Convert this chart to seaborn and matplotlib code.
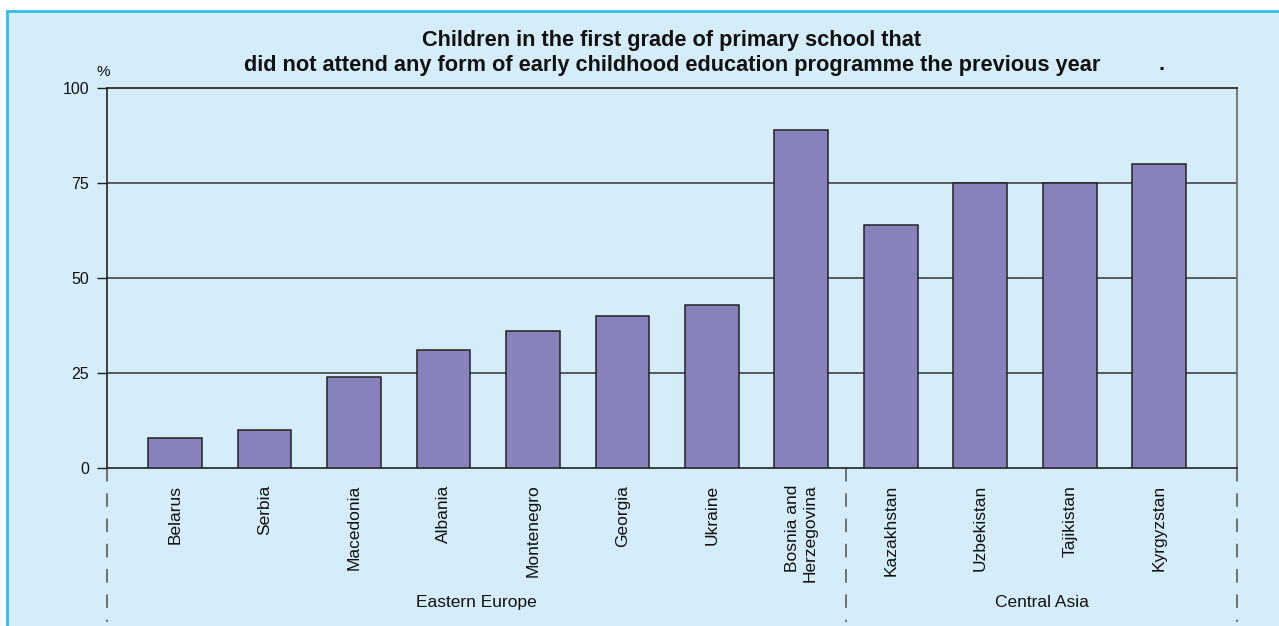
import matplotlib
matplotlib.use("Agg")
import matplotlib.pyplot as plt
from matplotlib.patches import Rectangle
from matplotlib.transforms import blended_transform_factory
import seaborn as sns
import pandas as pd

countries = ["Belarus", "Serbia", "Macedonia", "Albania", "Montenegro", "Georgia",
             "Ukraine", "Bosnia and\nHerzegovina", "Kazakhstan", "Uzbekistan",
             "Tajikistan", "Kyrgyzstan"]
pct_no_ece = [8, 10, 24, 31, 36, 40, 43, 89, 64, 75, 75, 80]
regions = ["Eastern Europe", "Central Asia"]
region_sizes = [8, 4]
y_ticks = [0, 25, 50, 75, 100]

BG = "#D5ECF9"
BAR = "#8782BC"

sns.set_theme(style="white")
plt.rcParams["font.family"] = ["Liberation Sans", "DejaVu Sans"]

fig = plt.figure(figsize=(12.79, 6.26), dpi=100)
fig.patch.set_facecolor("white")
fig.patches.append(Rectangle((7 / 1279, -0.01), 1.0, 1 - 11 / 626 + 0.01,
                             transform=fig.transFigure, facecolor=BG,
                             edgecolor="#33BDEE", linewidth=2, zorder=-10))

ax = fig.add_axes([107 / 1279, 1 - 468 / 626, 1130 / 1279, 380 / 626])
ax.set_facecolor(BG)

df = pd.DataFrame({"country": countries, "pct": pct_no_ece})
sns.barplot(data=df, x="country", y="pct", color=BAR, saturation=1,
            edgecolor="#222222", linewidth=1.1, width=0.6, ax=ax, zorder=3)

ax.set_xlim(-0.76, 11.87)
ax.set_ylim(0, 100)
ax.set_yticks(y_ticks)
ax.set_yticklabels([str(t) for t in y_ticks], fontsize=11.5, color="#111111")
ax.tick_params(axis="y", length=7, width=1, color="#222222", pad=6, left=True)
ax.tick_params(axis="x", length=0, pad=12)
ax.set_xticks(range(len(countries)))
ax.set_xticklabels(countries, rotation=90, ha="center", va="top",
                   multialignment="right", fontsize=12.5, color="#111111")
ax.set_xlabel("")
ax.set_ylabel("")

for t in y_ticks[1:-1]:
    ax.axhline(t, color="#333333", linewidth=1.1, zorder=1)

for side in ["left", "bottom", "top"]:
    ax.spines[side].set_color("#222222")
    ax.spines[side].set_linewidth(1.2)
ax.spines["right"].set_color("#777777")
ax.spines["right"].set_linewidth(1.4)

# Region separators and group labels below the category labels
trans = blended_transform_factory(ax.transData, ax.transAxes)
bounds = [-0.76]
pos = -0.5
for n in region_sizes:
    pos += n
    bounds.append(pos)
bounds[-1] = 11.87
for b in bounds:
    ax.plot([b, b], [0, -0.405], transform=trans, color="#666666",
            linewidth=1.3, dashes=(7.5, 6.5), clip_on=False, zorder=2)
for name, lo, hi in zip(regions, bounds[:-1], bounds[1:]):
    ax.text((lo + hi) / 2, -0.355, name, transform=trans, ha="center",
            va="center", fontsize=12.5, color="#111111")

ax.text(-0.003, 1.042, "%", transform=ax.transAxes, ha="center", va="center",
        fontsize=11, color="#111111")

fig.text(672 / 1279, 1 - 53 / 626,
         "Children in the first grade of primary school that\n"
         "did not attend any form of early childhood education programme the previous year",
         ha="center", va="center", fontsize=15.7, fontweight="bold",
         color="#111111", linespacing=1.2)
fig.text(1162 / 1279, 1 - 64 / 626, ".", ha="center", va="center",
         fontsize=15.7, fontweight="bold", color="#111111")

fig.savefig("out.png", dpi=100, facecolor=fig.get_facecolor())
